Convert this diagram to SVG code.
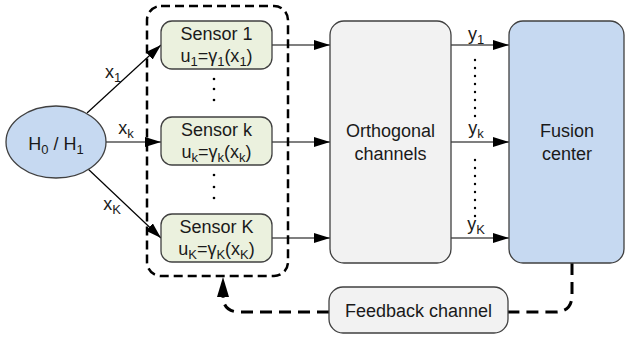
<svg xmlns="http://www.w3.org/2000/svg" width="625" height="339" viewBox="0 0 625 339">
<style>
text{font-family:"Liberation Sans",Arial,sans-serif;font-size:18px;fill:#1a1a1a;text-anchor:middle}
.sub{font-size:13px}
.box{stroke:#404040;stroke-width:1.3}
.sensor{fill:#EBF1DE}
.blue{fill:#C6D9F1}
.grey{fill:#F2F2F2}
.arr{stroke:#000;stroke-width:1.2;fill:none;marker-end:url(#ah)}
.dash{stroke:#000;stroke-width:3;fill:none;stroke-dasharray:12 7}
.dot{fill:#000}
</style>
<defs>
<marker id="ah" markerUnits="userSpaceOnUse" markerWidth="16" markerHeight="10" refX="16" refY="5" orient="auto"><path d="M0,0 L16,5 L0,10 z" fill="#000"/></marker>
</defs>
<g id="connectors">
<path class="arr" d="M87,113 L161,45"/>
<path class="arr" d="M106,142 L161,142"/>
<path class="arr" d="M87,168 L161,238"/>
<path class="arr" d="M272,45 L330,45"/>
<path class="arr" d="M272,142 L330,142"/>
<path class="arr" d="M272,238 L330,238"/>
<path class="arr" d="M451,45 L509,45"/>
<path class="arr" d="M451,142 L509,142"/>
<path class="arr" d="M451,238 L509,238"/>
<path class="dash" d="M572,263 L572,295 Q572,312 555,312 L508,312"/>
<path class="dash" d="M329,312 L240,312 Q223,312 223,296"/>
<polygon points="223,277 229,297 217,297" fill="#000"/>
<text x="113" y="78">x<tspan class="sub" dy="4">1</tspan></text>
<text x="126" y="134">x<tspan class="sub" dy="4">k</tspan></text>
<text x="112" y="210">x<tspan class="sub" dy="4">K</tspan></text>
<text x="476" y="40">y<tspan class="sub" dy="4">1</tspan></text>
<text x="476" y="134">y<tspan class="sub" dy="4">k</tspan></text>
<text x="476" y="230">y<tspan class="sub" dy="4">K</tspan></text>
<g class="dot">
<circle cx="214" cy="79" r="1.3"/><circle cx="214" cy="89" r="1.3"/><circle cx="214" cy="100" r="1.3"/>
<circle cx="214" cy="175" r="1.3"/><circle cx="214" cy="187" r="1.3"/><circle cx="214" cy="198" r="1.3"/>
<circle cx="475" cy="60" r="1.2"/><circle cx="475" cy="68" r="1.2"/><circle cx="475" cy="76" r="1.2"/><circle cx="475" cy="84" r="1.2"/><circle cx="475" cy="92" r="1.2"/><circle cx="475" cy="100" r="1.2"/><circle cx="475" cy="108" r="1.2"/><circle cx="475" cy="116" r="1.2"/>
<circle cx="475" cy="160" r="1.2"/><circle cx="475" cy="168" r="1.2"/><circle cx="475" cy="176" r="1.2"/><circle cx="475" cy="184" r="1.2"/><circle cx="475" cy="192" r="1.2"/><circle cx="475" cy="200" r="1.2"/><circle cx="475" cy="208" r="1.2"/><circle cx="475" cy="216" r="1.2"/>
</g>
</g>
<g id="sensor-group">
<rect x="147" y="6" width="141" height="270" rx="14" fill="none" stroke="#000" stroke-width="2.5" stroke-dasharray="9 5"/>
</g>
<g id="h0h1">
<ellipse cx="56" cy="142" rx="50" ry="36" class="box blue"/>
<text x="56" y="150">H<tspan class="sub" dy="4">0</tspan><tspan dy="-4"> / H</tspan><tspan class="sub" dy="4">1</tspan></text>
</g>
<g id="sensor1">
<rect x="161" y="21" width="111" height="48" rx="11" class="box sensor"/>
<text x="216.5" y="40">Sensor 1</text>
<text x="216.5" y="62">u<tspan class="sub" dy="4">1</tspan><tspan dy="-4">=γ</tspan><tspan class="sub" dy="4">1</tspan><tspan dy="-4">(x</tspan><tspan class="sub" dy="4">1</tspan><tspan dy="-4">)</tspan></text>
</g>
<g id="sensork">
<rect x="161" y="117" width="111" height="48" rx="11" class="box sensor"/>
<text x="216.5" y="136">Sensor k</text>
<text x="216.5" y="158">u<tspan class="sub" dy="4">k</tspan><tspan dy="-4">=γ</tspan><tspan class="sub" dy="4">k</tspan><tspan dy="-4">(x</tspan><tspan class="sub" dy="4">k</tspan><tspan dy="-4">)</tspan></text>
</g>
<g id="sensorK">
<rect x="161" y="214" width="111" height="48" rx="11" class="box sensor"/>
<text x="216.5" y="233">Sensor K</text>
<text x="216.5" y="255">u<tspan class="sub" dy="4">K</tspan><tspan dy="-4">=γ</tspan><tspan class="sub" dy="4">K</tspan><tspan dy="-4">(x</tspan><tspan class="sub" dy="4">K</tspan><tspan dy="-4">)</tspan></text>
</g>
<g id="orthogonal">
<rect x="330" y="21" width="121" height="242" rx="14" class="box grey"/>
<text x="390.5" y="137">Orthogonal</text>
<text x="390.5" y="160">channels</text>
</g>
<g id="fusion">
<rect x="509" y="21" width="115" height="242" rx="14" class="box blue"/>
<text x="567" y="137">Fusion</text>
<text x="567" y="160">center</text>
</g>
<g id="feedback">
<rect x="329" y="287" width="179" height="46" rx="14" class="box grey"/>
<text x="418.5" y="317">Feedback channel</text>
</g>
</svg>
